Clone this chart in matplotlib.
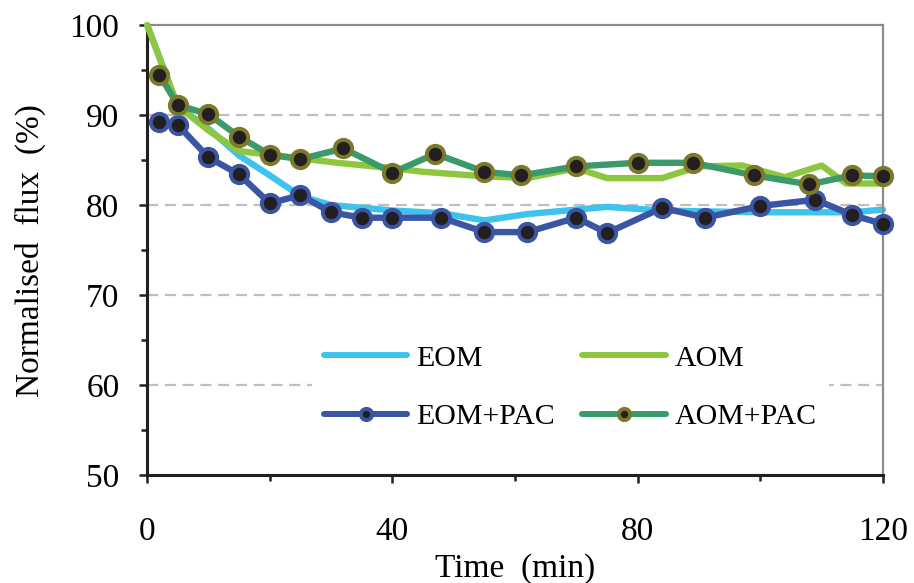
import matplotlib.pyplot as plt
from matplotlib.ticker import MultipleLocator

plt.rcParams['font.family'] = ['Liberation Serif', 'DejaVu Serif']

# EOM (no markers)
t_eom = [0, 5, 10, 15, 20, 25, 30, 40, 48, 55, 62, 70, 75, 84, 91, 100, 109, 115, 120]
eom = [100, 91, 88.5, 85.5, 83.3, 81.0, 80.0, 79.4, 79.1, 78.3, 79.0, 79.5, 79.8, 79.4, 79.3, 79.2, 79.2, 79.2, 79.5]

# AOM (no markers)
t_aom = [0, 5, 10, 15, 20, 25, 31, 40, 45, 55, 62, 70, 75, 84, 90, 97, 104, 110, 114, 120]
aom = [100, 91, 88.3, 86.0, 85.6, 85.2, 84.7, 84.1, 83.7, 83.2, 83.0, 84.1, 83.0, 83.0, 84.3, 84.4, 83.1, 84.4, 82.4, 82.4]

# EOM+PAC
t_eom_pac = [2, 5, 10, 15, 20, 25, 30, 35, 40, 48, 55, 62, 70, 75, 84, 91, 100, 109, 115, 120]
eom_pac = [89.2, 88.9, 85.3, 83.4, 80.2, 81.1, 79.2, 78.6, 78.6, 78.6, 77.0, 77.0, 78.6, 76.9, 79.7, 78.6, 79.9, 80.6, 78.9, 77.9]

# AOM+PAC
t_aom_pac = [2, 5, 10, 15, 20, 25, 32, 40, 47, 55, 61, 70, 80, 89, 99, 108, 115, 120]
aom_pac = [94.5, 91.1, 90.1, 87.6, 85.6, 85.1, 86.3, 83.6, 85.7, 83.7, 83.3, 84.3, 84.7, 84.7, 83.3, 82.3, 83.3, 83.2]

fig = plt.figure(figsize=(9.14, 5.83), dpi=100)
ax = fig.add_axes([0.161, 0.185, 0.805, 0.772])

l1, = ax.plot(t_eom, eom, color='#3ec3ee', lw=4.6, zorder=2, clip_on=False,
              solid_capstyle='round', label='EOM')
l2, = ax.plot(t_aom, aom, color='#8dc63f', lw=4.6, zorder=3, clip_on=False,
              solid_capstyle='round', label='AOM')
l3, = ax.plot(t_eom_pac, eom_pac, color='#3a55a4', lw=4.6, zorder=4, clip_on=False,
              marker='o', ms=12.5, mfc='#231f20', mec='#3a55a4', mew=2.8,
              solid_capstyle='round', label='EOM+PAC')
l4, = ax.plot(t_aom_pac, aom_pac, color='#3a9a6a', lw=4.6, zorder=5, clip_on=False,
              marker='o', ms=12.5, mfc='#231f20', mec='#7a7a2a', mew=2.8,
              solid_capstyle='round', label='AOM+PAC')

ax.set_xlim(0, 120)
ax.set_ylim(50, 100)
ax.xaxis.set_major_locator(MultipleLocator(40))
ax.xaxis.set_minor_locator(MultipleLocator(20))
ax.yaxis.set_major_locator(MultipleLocator(10))
ax.yaxis.set_minor_locator(MultipleLocator(5))

for y in [60, 70, 80, 90]:
    ax.axhline(y, color='#bfbfbf', lw=1.6, ls=(0, (5, 3)), zorder=1)

for s in ['left', 'bottom']:
    ax.spines[s].set_color('#231f20')
    ax.spines[s].set_linewidth(2.2)
for s in ['top', 'right']:
    ax.spines[s].set_color('#8c8c8c')
    ax.spines[s].set_linewidth(1.6)

ax.tick_params(which='major', length=6, width=1.8, color='#231f20', labelsize=24)
ax.tick_params(which='minor', length=4.5, width=1.8, color='#231f20')
ax.tick_params(axis='y', which='major', pad=14)
ax.tick_params(axis='x', which='major', pad=24)

ax.set_xlabel('Time  (min)', fontsize=24, labelpad=4)
ax.set_ylabel('Normalised  flux  (%)', fontsize=24, labelpad=17)

leg = ax.legend(handles=[l1, l3, l2, l4], ncol=2, loc='center',
                bbox_to_anchor=(0.575, 0.195), fontsize=21.5, frameon=True,
                facecolor='white', edgecolor='none', framealpha=1,
                handlelength=2.8, handletextpad=0.3, columnspacing=0.9,
                labelspacing=1.05, borderpad=0.4, fancybox=False, markerscale=0.65)
for h in leg.legend_handles:
    h.set_linewidth(4.3)
leg.set_zorder(6)

plt.savefig('out.png')
